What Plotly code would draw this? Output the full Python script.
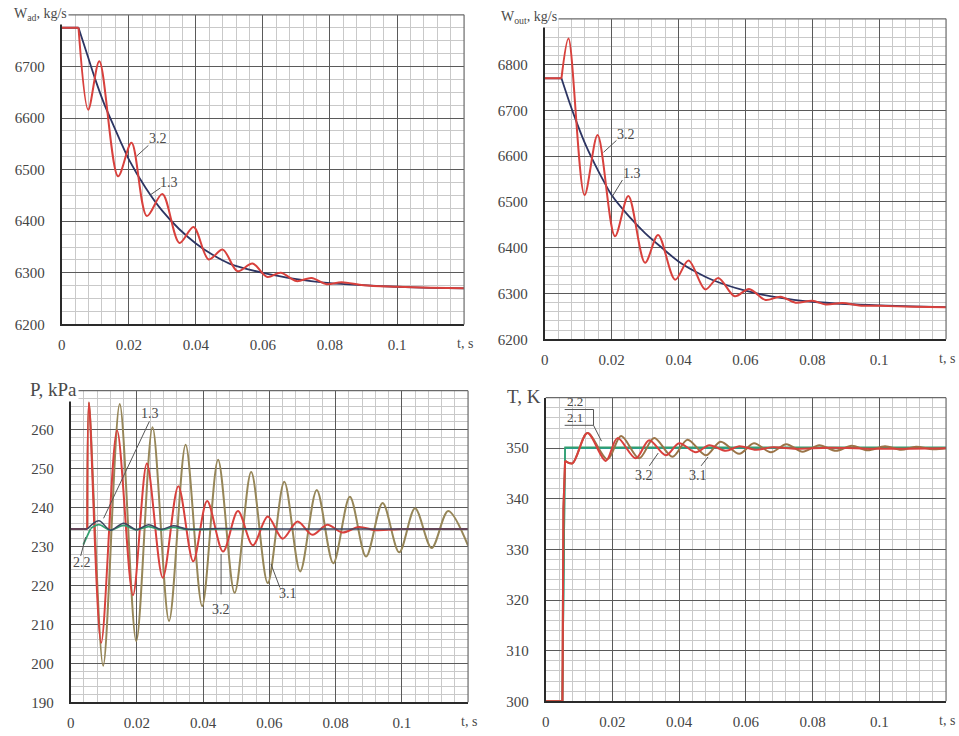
import plotly.graph_objects as go

# ---------------- data ----------------
# Top-left: W_ad, kg/s
t_wad_13 = [0, 0.005, 0.0075, 0.01, 0.0125, 0.015, 0.0175, 0.02, 0.025, 0.03, 0.035, 0.04, 0.045, 0.05, 0.06, 0.07, 0.08, 0.09, 0.1, 0.11, 0.12]
wad_13 = [6775, 6775, 6725, 6675, 6630, 6592, 6555, 6520, 6465, 6420, 6385, 6357, 6335, 6318, 6300, 6288, 6280, 6276, 6273, 6271, 6270]
t_wad_32 = [0, 0.005, 0.0079, 0.0112, 0.0168, 0.0208, 0.0254, 0.030, 0.0351, 0.0393, 0.0438, 0.048, 0.0524, 0.0569, 0.0613, 0.0653, 0.070, 0.0745, 0.079, 0.0835, 0.09, 0.1, 0.11, 0.12]
wad_32 = [6775, 6775, 6616, 6710, 6487, 6552, 6410, 6453, 6358, 6389, 6326, 6345, 6303, 6318, 6292, 6300, 6284, 6290, 6278, 6282, 6276, 6273, 6271, 6270]

# Top-right: W_out, kg/s
t_wout_13 = [0, 0.005, 0.0075, 0.01, 0.0125, 0.015, 0.0175, 0.02, 0.025, 0.03, 0.035, 0.04, 0.045, 0.05, 0.06, 0.07, 0.08, 0.09, 0.1, 0.11, 0.12]
wout_13 = [6770, 6770, 6715, 6665, 6620, 6582, 6547, 6515, 6470, 6432, 6400, 6370, 6348, 6330, 6306, 6291, 6282, 6277, 6274, 6272, 6270]
t_wout_32 = [0, 0.005, 0.0071, 0.0119, 0.0158, 0.021, 0.025, 0.030, 0.0339, 0.039, 0.043, 0.048, 0.0519, 0.0568, 0.0611, 0.066, 0.0705, 0.075, 0.080, 0.084, 0.089, 0.094, 0.1, 0.11, 0.12]
wout_32 = [6770, 6770, 6857, 6515, 6646, 6425, 6513, 6367, 6428, 6330, 6372, 6309, 6334, 6294, 6310, 6286, 6293, 6280, 6284, 6276, 6279, 6274, 6273, 6271, 6270]

# Bottom-left: P, kPa
t_p_32 = [0, 0.005, 0.0055, 0.0092, 0.014, 0.0188, 0.023, 0.0278, 0.0325, 0.037, 0.0412, 0.046, 0.0505, 0.055, 0.0595, 0.064, 0.0685, 0.073, 0.0775, 0.082, 0.087, 0.092, 0.1, 0.11, 0.12]
p_32 = [234.5, 234.5, 267, 205.3, 259.8, 217.5, 251.3, 222, 245.5, 226.2, 241.7, 228.7, 239.1, 230.3, 237.7, 232, 236.4, 233, 235.6, 233.6, 235, 234.2, 234.5, 234.5, 234.5]
t_p_31 = [0, 0.005, 0.0055, 0.0098, 0.0148, 0.0198, 0.0247, 0.0297, 0.0347, 0.0397, 0.0445, 0.0495, 0.0545, 0.0595, 0.0645, 0.0693, 0.0743, 0.0793, 0.0843, 0.0892, 0.0942, 0.0992, 0.104, 0.109, 0.114, 0.12]
p_31 = [234.5, 234.5, 267, 199.4, 266.6, 205.7, 260.6, 210.9, 256.1, 214.7, 252.3, 218.1, 249.1, 220.6, 246.6, 223.6, 244.5, 225.7, 242.8, 227.4, 241.2, 228.5, 239.8, 229.6, 239.1, 230.2]
t_p_22 = [0.0038, 0.006, 0.0085, 0.012, 0.016, 0.0198, 0.0235, 0.0273, 0.031, 0.035, 0.045, 0.06]
p_22 = [230.5, 234.6, 235.6, 234.2, 235.4, 234.3, 235.1, 234.3, 234.9, 234.4, 234.5, 234.5]
t_p_13 = [0, 0.005, 0.0085, 0.012, 0.016, 0.0198, 0.0235, 0.0273, 0.031, 0.035, 0.045, 0.06, 0.08, 0.1, 0.12]
p_13 = [234.5, 234.5, 236.6, 234.2, 236, 234.3, 235.6, 234.4, 235.3, 234.5, 234.6, 234.5, 234.5, 234.5, 234.5]

# Bottom-right: T, K
t_t_2 = [0, 0.005, 0.0058, 0.12]
T_22 = [300, 300, 350, 350]
T_21 = [300, 300, 350.2, 350.2]
t_t_32 = [0, 0.005, 0.0053, 0.0058, 0.008, 0.0125, 0.018, 0.0215, 0.027, 0.031, 0.036, 0.040, 0.045, 0.049, 0.054, 0.058, 0.063, 0.068, 0.075, 0.085, 0.1, 0.12]
T_32 = [300, 300, 338, 347.5, 347, 353, 347.5, 352, 348, 351.6, 348.6, 351, 349.2, 350.6, 349.5, 350.4, 349.7, 350.2, 349.9, 350.1, 349.9, 350]
t_t_31 = [0, 0.005, 0.0053, 0.0058, 0.008, 0.0125, 0.0185, 0.0226, 0.028, 0.0325, 0.038, 0.0425, 0.048, 0.0524, 0.058, 0.0624, 0.0675, 0.0721, 0.077, 0.082, 0.087, 0.0917, 0.0965, 0.1017, 0.1065, 0.111, 0.116, 0.12]
T_31 = [300, 300, 338, 347.5, 347, 353, 347.8, 352.4, 348, 352, 348.3, 351.7, 348.6, 351.3, 348.9, 351, 349.2, 350.8, 349.3, 350.6, 349.5, 350.5, 349.6, 350.4, 349.7, 350.3, 349.8, 350]

x_ticks = [0, 0.02, 0.04, 0.06, 0.08, 0.1]
x_ticktext = ["0", "0.02", "0.04", "0.06", "0.08", "0.1"]

RED = "#d8413d"
NAVY = "#2d3563"
OLIVE = "#968658"
GREEN = "#33a070"
DARK = "#3b4560"
BROWN = "#9a7448"

W, H = 959, 736
FONT = "Liberation Serif"


def px(x, y):
    return x / W, 1 - y / H


fig = go.Figure()


def add(t, v, color, width, ax, k=0, smoothing=0.9):
    """Draw points [0..k] as straight segments, the rest as a smooth spline."""
    xa = "x" if ax == 1 else f"x{ax}"
    ya = "y" if ax == 1 else f"y{ax}"
    if k > 0:
        fig.add_trace(go.Scatter(x=t[:k + 1], y=v[:k + 1], mode="lines",
                                 line=dict(color=color, width=width, shape="linear"),
                                 xaxis=xa, yaxis=ya, showlegend=False, hoverinfo="skip"))
    fig.add_trace(go.Scatter(x=t[k:], y=v[k:], mode="lines",
                             line=dict(color=color, width=width, shape="spline", smoothing=smoothing),
                             xaxis=xa, yaxis=ya, showlegend=False, hoverinfo="skip"))


add(t_wad_13, wad_13, NAVY, 1.8, 1, k=1)
add(t_wad_32, wad_32, RED, 2, 1, k=1)
add(t_wout_13, wout_13, NAVY, 1.8, 2, k=1)
add(t_wout_32, wout_32, RED, 2, 2, k=1)
add(t_p_31, p_31, OLIVE, 2, 3, k=1)
add(t_p_32, p_32, RED, 2, 3, k=1)
add(t_p_22, p_22, GREEN, 1.8, 3, k=1)
add(t_p_13, p_13, DARK, 1.5, 3, k=1)
add(t_t_2, T_22, "#2a9c8a", 1.6, 4, k=len(t_t_2) - 1)
add(t_t_2, T_21, GREEN, 1.6, 4, k=len(t_t_2) - 1)
add(t_t_31, T_31, BROWN, 2, 4, k=3)
add(t_t_32, T_32, RED, 2, 4, k=3)

# domains from pixel boxes (left, top, right, bottom)
boxes = {
    1: (58, 15, 462, 328),
    2: (543, 19, 946, 343),
    3: (67, 395, 466, 710),
    4: (544, 402, 946, 709),
}
yranges = {1: (6200, 6800), 2: (6200, 6900), 3: (190, 270), 4: (300, 360)}
yminor = {1: 25, 2: 20, 3: 2, 4: 2}
ytickvals = {
    1: [6200, 6300, 6400, 6500, 6600, 6700],
    2: [6200, 6300, 6400, 6500, 6600, 6700, 6800],
    3: [190, 200, 210, 220, 230, 240, 250, 260],
    4: [300, 310, 320, 330, 340, 350],
}

tickfont = dict(family=FONT, size=15, color="#444444")
layout = dict(
    width=W, height=H, margin=dict(l=0, r=0, t=0, b=0),
    paper_bgcolor="white", plot_bgcolor="white", showlegend=False,
)
shapes = []
for i, (l, t, r, b) in boxes.items():
    x0, y1 = px(l, t)
    x1, y0 = px(r, b)
    xk = "xaxis" if i == 1 else f"xaxis{i}"
    yk = "yaxis" if i == 1 else f"yaxis{i}"
    anchor_x = "y" if i == 1 else f"y{i}"
    anchor_y = "x" if i == 1 else f"x{i}"
    layout[xk] = dict(
        domain=[x0, x1], anchor=anchor_x, range=[0, 0.12],
        tickvals=x_ticks, ticktext=x_ticktext, tickfont=tickfont,
        showgrid=True, gridcolor="#5a5a5a", gridwidth=1,
        minor=dict(dtick=0.004, tick0=0, showgrid=True, gridcolor="#c9c9c9", gridwidth=1),
        showline=True, linecolor="#2a2a2a", linewidth=2,
        ticks="", zeroline=False, ticklabelstandoff=6, fixedrange=True,
    )
    layout[yk] = dict(
        domain=[y0, y1], anchor=anchor_y, range=list(yranges[i]),
        tickvals=ytickvals[i], tickfont=tickfont,
        showgrid=True, gridcolor="#5a5a5a", gridwidth=1,
        minor=dict(dtick=yminor[i], tick0=yranges[i][0], showgrid=True, gridcolor="#c9c9c9", gridwidth=1),
        showline=True, linecolor="#2a2a2a", linewidth=2,
        ticks="", zeroline=False, ticklabelstandoff=12, fixedrange=True,
    )
    # top and right frame lines
    shapes.append(dict(type="line", xref="paper", yref="paper", x0=x0, x1=x1, y0=y1, y1=y1,
                       line=dict(color="#6a6a6a", width=1.2)))
    shapes.append(dict(type="line", xref="paper", yref="paper", x0=x1, x1=x1, y0=y0, y1=y1,
                       line=dict(color="#6a6a6a", width=1.2)))

annotations = []


def label(text, x, y, size=14, xanchor="center", bg=None):
    xp, yp = px(x, y)
    a = dict(text=text, x=xp, y=yp, xref="paper", yref="paper", showarrow=False,
             font=dict(family=FONT, size=size, color="#4a4a4a"), xanchor=xanchor,
             yanchor="middle")
    if bg:
        a["bgcolor"] = bg
    annotations.append(a)


def leader(xa, ya, xb, yb, color="#555555"):
    x0, y0 = px(xa, ya)
    x1, y1 = px(xb, yb)
    shapes.append(dict(type="line", xref="paper", yref="paper", x0=x0, y0=y0, x1=x1, y1=y1,
                       line=dict(color=color, width=1)))


# axis titles (white background hides the frame corner, as in the original)
label("W<sub>ad</sub>, kg/s", 8, 15, size=14, xanchor="left", bg="white")
label("W<sub>out</sub>, kg/s", 497, 18, size=14, xanchor="left", bg="white")
label("P, kPa", 24, 394, size=19, xanchor="left", bg="white")
label("T, K", 503, 401, size=19, xanchor="left", bg="white")

# "t, s" labels at the x-axis end
for (l, t, r, b) in boxes.values():
    label("t, s", r + 1, b + 19, size=14)

# curve labels - top left
label("3.2", 155, 140); leader(145, 147, 133, 158)
label("1.3", 166, 184); leader(157, 190, 147, 197)
# top right
label("3.2", 625, 136); leader(615, 142, 602, 154)
label("1.3", 631, 175); leader(621, 182, 610, 200)
# bottom left
label("1.3", 147, 418); leader(146, 426, 100, 524)
label("2.2", 78, 569); leader(77, 562, 82, 543)
label("3.2", 218, 616); leader(218, 601, 218, 560)
label("3.1", 285, 600); leader(277, 594, 268, 570)
# bottom right
label("3.2", 643, 481); leader(648, 471, 657, 458)
label("3.1", 697, 481); leader(700, 471, 707, 462)
label("2.2", 573, 406, size=13)
label("2.1", 573, 422, size=13)
leader(563, 414, 592, 414); leader(592, 414, 592, 430)
leader(563, 430, 592, 430); leader(592, 430, 600, 446)

layout["shapes"] = shapes
layout["annotations"] = annotations
fig.update_layout(**layout)

fig.write_html("out.html", config={"displayModeBar": False},
               post_script="document.body.style.margin='0';")
